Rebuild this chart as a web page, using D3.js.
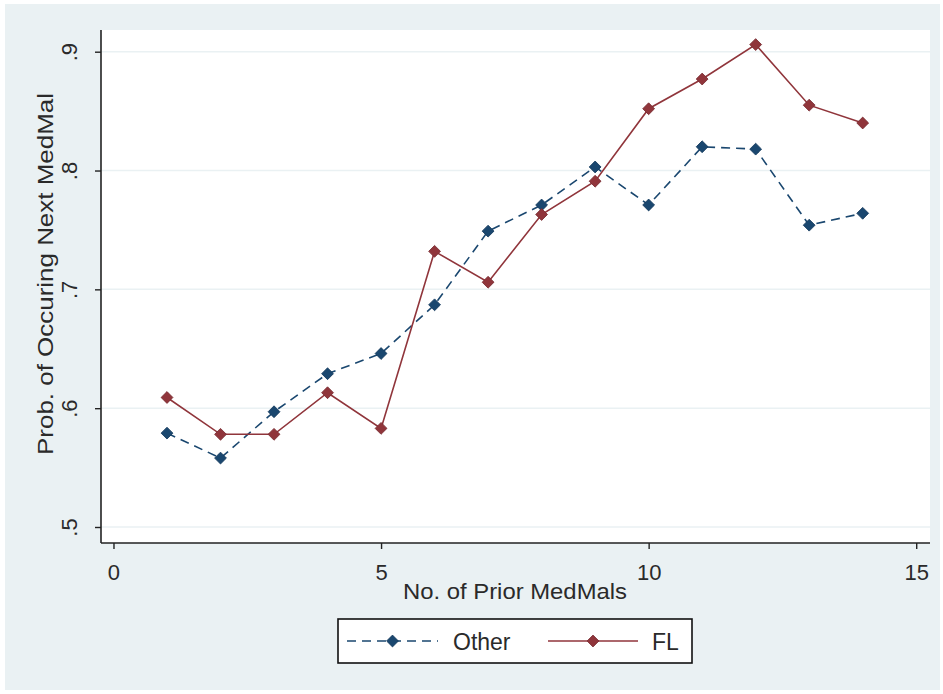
<!DOCTYPE html>
<html>
<head>
<meta charset="utf-8">
<script src="https://cdn.jsdelivr.net/npm/d3@7"></script>
<style>
  body { margin: 0; background: #fff; }
  svg { display: block; font-family: "Liberation Sans", Arial, sans-serif; }
</style>
</head>
<body>
<svg id="chart" width="943" height="694"></svg>
<script>
// data
let priorMedMals = [1, 2, 3, 4, 5, 6, 7, 8, 9, 10, 11, 12, 13, 14]
let otherProb = [0.579, 0.558, 0.597, 0.629, 0.646, 0.687, 0.749, 0.771, 0.803, 0.771, 0.820, 0.818, 0.754, 0.764]
let flProb = [0.609, 0.578, 0.578, 0.613, 0.583, 0.732, 0.706, 0.763, 0.791, 0.852, 0.877, 0.906, 0.855, 0.840]
let xTicks = [0, 5, 10, 15]
let yTicks = [0.5, 0.6, 0.7, 0.8, 0.9]
let seriesNames = ['Other', 'FL']

let svg = d3.select('#chart')

// outer graph region
svg.append('rect')
.attr('x', 5).attr('y', 4)
.attr('width', 935).attr('height', 686)
.attr('fill', '#eaf1f3')

// plot region
let plot = {left: 101, right: 930, top: 30, bottom: 543}

svg.append('rect')
.attr('x', plot.left).attr('y', plot.top)
.attr('width', plot.right - plot.left).attr('height', plot.bottom - plot.top)
.attr('fill', '#ffffff')

let x = d3.scaleLinear().domain([1, 14]).range([167, 862.7])
let y = d3.scaleLinear().domain([0.5, 0.9]).range([527, 51.7])

// gridlines
svg.append('g')
.selectAll('line')
.data(yTicks)
.enter()
.append('line')
.attr('x1', plot.left).attr('x2', plot.right)
.attr('y1', d => y(d)).attr('y2', d => y(d))
.attr('stroke', '#eaf1f3')
.attr('stroke-width', 1.5)

// axes
let xAxis = svg.append('g')
.attr('transform', `translate(0,${plot.bottom})`)
.call(d3.axisBottom(x).tickValues(xTicks).tickSize(6).tickPadding(15).tickFormat(d3.format('d')))

xAxis.select('.domain').attr('d', `M${plot.left},0H${plot.right}`).attr('stroke', '#222').attr('stroke-width', 1.6)
xAxis.selectAll('.tick line').attr('stroke', '#222').attr('stroke-width', 1.4)
xAxis.selectAll('.tick text')
.style('font-size', '22px')
.attr('fill', '#2a2a2a')

let yAxis = svg.append('g')
.attr('transform', `translate(${plot.left},0)`)
.call(d3.axisLeft(y).tickValues(yTicks).tickSize(6).tickFormat(d => d3.format('.1f')(d).replace('0.', '.')))

yAxis.select('.domain').attr('d', `M0,${plot.top}V${plot.bottom}`).attr('stroke', '#222').attr('stroke-width', 1.6)
yAxis.selectAll('.tick line').attr('stroke', '#222').attr('stroke-width', 1.4)
yAxis.selectAll('.tick text')
.attr('x', null).attr('dy', null)
.attr('transform', 'translate(-30,0) rotate(-90)')
.attr('text-anchor', 'middle')
.attr('dominant-baseline', 'middle')
.style('font-size', '22px')
.attr('fill', '#2a2a2a')

// axis titles
svg.append('text')
.attr('x', 515).attr('y', 599)
.attr('text-anchor', 'middle')
.style('font-size', '22px')
.attr('fill', '#2a2a2a')
.attr('textLength', 224)
.attr('lengthAdjust', 'spacingAndGlyphs')
.text('No. of Prior MedMals')

svg.append('text')
.attr('transform', 'translate(53,274) rotate(-90)')
.attr('text-anchor', 'middle')
.style('font-size', '22px')
.attr('fill', '#2a2a2a')
.attr('textLength', 362)
.attr('lengthAdjust', 'spacingAndGlyphs')
.text('Prob. of Occuring Next MedMal')

// series
let series = [
    {name: seriesNames[0], values: otherProb, color: '#1a476f', dash: '9,6'},
    {name: seriesNames[1], values: flProb, color: '#90353b', dash: null},
]

let line = d3.line()
.x((d, i) => x(priorMedMals[i]))
.y(d => y(d))

let diamond = d3.symbol().type(d3.symbolSquare).size(70)

series.forEach(s => {
    svg.append('path')
    .datum(s.values)
    .attr('d', line)
    .attr('fill', 'none')
    .attr('stroke', s.color)
    .attr('stroke-width', 1.6)
    .attr('stroke-dasharray', s.dash)

    svg.append('g')
    .selectAll('path')
    .data(s.values)
    .enter()
    .append('path')
    .attr('d', diamond)
    .attr('transform', (d, i) => `translate(${x(priorMedMals[i])},${y(d)}) rotate(45)`)
    .attr('fill', s.color)
    .attr('stroke', d3.color(s.color).darker(0.5))
    .attr('stroke-width', 0.8)
})

// legend
let legend = svg.append('g')

legend.append('rect')
.attr('x', 338).attr('y', 619)
.attr('width', 354).attr('height', 44)
.attr('fill', '#ffffff')
.attr('stroke', '#111')
.attr('stroke-width', 1.6)

let legendItems = [
    {x1: 347, x2: 438, text: 453},
    {x1: 548, x2: 638, text: 652},
]

series.forEach((s, i) => {
    let it = legendItems[i]
    legend.append('line')
    .attr('x1', it.x1).attr('x2', it.x2)
    .attr('y1', 641).attr('y2', 641)
    .attr('stroke', s.color)
    .attr('stroke-width', 1.6)
    .attr('stroke-dasharray', s.dash)

    legend.append('path')
    .attr('d', diamond)
    .attr('transform', `translate(${(it.x1 + it.x2) / 2},641) rotate(45)`)
    .attr('fill', s.color)
    .attr('stroke', d3.color(s.color).darker(0.5))
    .attr('stroke-width', 0.8)

    legend.append('text')
    .attr('x', it.text).attr('y', 642)
    .attr('dominant-baseline', 'central')
    .style('font-size', '23px')
    .attr('fill', '#2a2a2a')
    .text(s.name)
})
</script>
</body>
</html>
